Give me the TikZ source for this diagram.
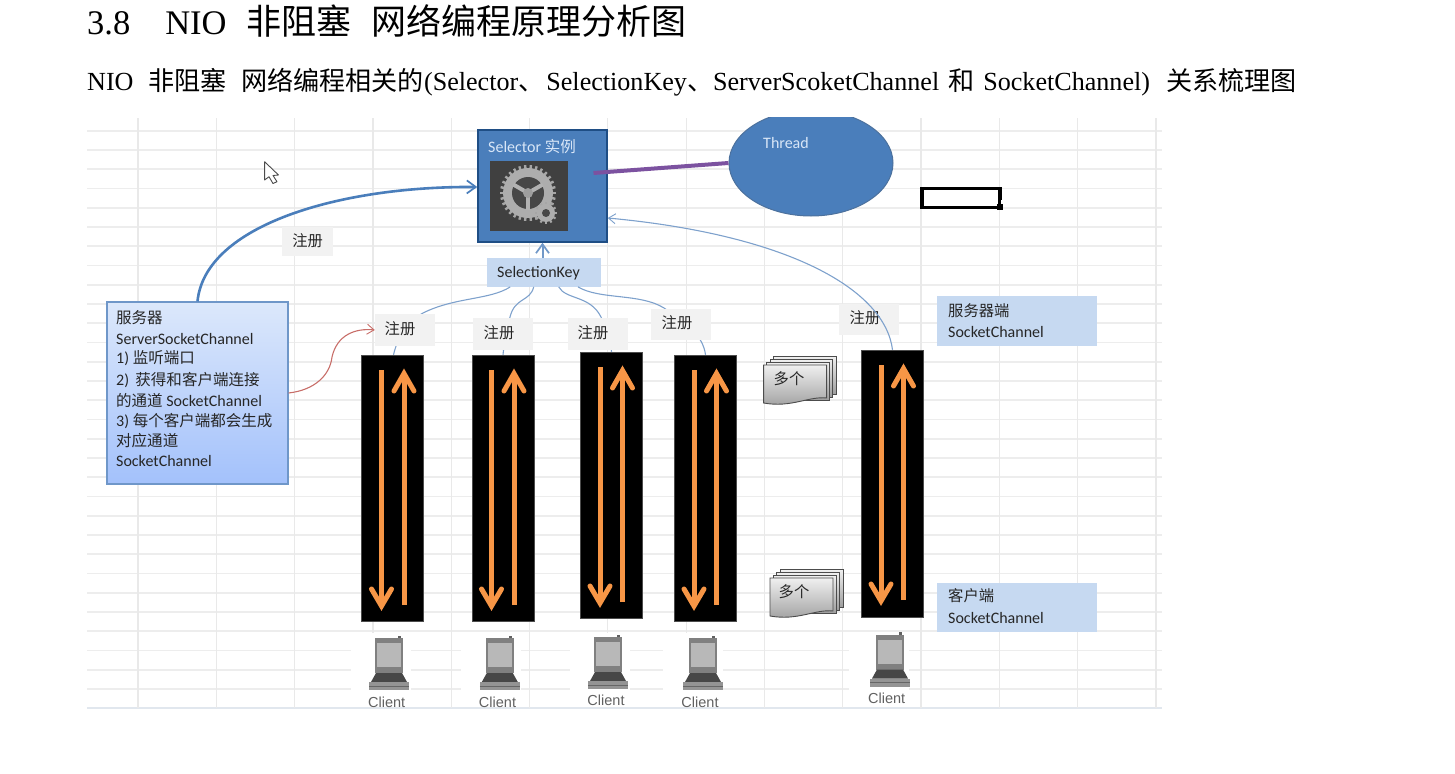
\documentclass[tikz,border=0pt]{standalone}
\usepackage{fontspec}
\setmainfont{Liberation Serif}
\newfontfamily\cjk{Noto Sans CJK SC}
\newfontfamily\cjks[Scale=0.97]{Noto Sans CJK SC}
\newfontfamily\calfont{Carlito}
\newfontfamily\arifont{Liberation Sans}
\usetikzlibrary{shapes.geometric,arrows.meta,calc}
\newcommand{\zh}[1]{{\cjk #1}}
\newcommand{\zs}[1]{{\cjks #1}}
\definecolor{gridc}{HTML}{EDEDED}
\definecolor{gridv}{HTML}{E9E9E9}
\definecolor{selblue}{HTML}{4A7EBB}
\definecolor{seledge}{HTML}{1F4E85}
\definecolor{pale}{HTML}{C6D9F1}
\definecolor{linkblue}{HTML}{7EA1CC}
\definecolor{orangearrow}{HTML}{F79646}
\definecolor{purpleline}{HTML}{7C52A0}
\definecolor{redlink}{HTML}{C86E69}
\definecolor{srvtop}{HTML}{DCE8FB}
\definecolor{srvbot}{HTML}{A3C1FB}
\definecolor{srvedge}{HTML}{6F97C9}
\definecolor{lighttext}{HTML}{D8E6F7}
\tikzset{
  lbl/.style={fill=black!5,inner sep=0pt,minimum width=60pt,minimum height=32pt},
  txt/.style={inner sep=0pt,text=black!85,font=\cjk\fontsize{15.3}{15.3}\selectfont},
  lat/.style={anchor=west,inner sep=0pt,text=black!85,font=\calfont\fontsize{16}{16}\selectfont},
  palebox/.style={fill=pale,inner sep=0pt},
  chan/.style={fill=black,draw=black!70,line width=.5pt,inner sep=0pt,minimum width=62pt},
  thinlink/.style={draw=linkblue,line width=1.1pt},
  openhead/.style={-{Straight Barb[length=7pt,width=10pt,line width=.9pt]}},
  bighead/.style={-{Straight Barb[length=9pt,width=13pt,line width=1.7pt]}},
  pipearrow/.style={draw=orangearrow,line width=5pt},
  page/.style={draw=black!70,line width=.9pt,top color=black!6,bottom color=black!38},
  clienttext/.style={font=\arifont\fontsize{14.5}{14.5}\selectfont,text=black!62,inner sep=0pt},
  mask/.style={fill=white,draw=none},
}
% two arrows inside a channel: #1 left edge, #2 top edge
\newcommand{\pipes}[2]{%
  \begin{scope}[shift={(#1,#2)}]
    \draw[pipearrow] (19.5,15) -- (19.5,250);
    \draw[pipearrow,line cap=round,line join=miter] (9.5,234) -- (19.5,251) -- (29.5,234);
    \draw[pipearrow] (42,250) -- (42,20);
    \draw[pipearrow,line cap=round,line join=miter] (32,36) -- (42,18.5) -- (52,36);
  \end{scope}}
% laptop picture: #1 centre x, #2 vertical offset
\newcommand{\laptop}[2]{%
  \begin{scope}[shift={(#1,#2)}]
    \fill[black!50] (-14,638) rectangle (14,673);
    \fill[black!28] (-12,643) rectangle (12,667);
    \fill[black!62] (9,635.5) rectangle (12,638);
    \fill[black!72] (-13,673) -- (13,673) -- (18,682) -- (-18,682) -- cycle;
    \fill[black!42] (-20,682) rectangle (20,690);
    \draw[black!60,line width=.5pt] (-20,686) -- (20,686);
  \end{scope}}
% stack of pages: #1 left, #2 top
\newcommand{\pagestack}[2]{%
  \begin{scope}[shift={(#1,#2)}]
    \draw[page] (10,0) rectangle (73,38);
    \draw[page] (6.5,3) rectangle (69,41);
    \draw[page] (3,6) rectangle (66,44);
    \draw[page] (0,9) -- (63,9) -- (63,42) .. controls (45,40) and (28,52) .. (0,47) -- cycle;
  \end{scope}}
\begin{document}
\begin{tikzpicture}[x=1pt,y=-1pt]
\useasboundingbox (0,0) rectangle (1455,773);
% headings
\node[anchor=base west,inner sep=0pt,font=\fontsize{34.5}{34.5}\selectfont] (title) at (87,34.5)
  {3.8\hspace{35pt}NIO\hspace{20pt}{\cjk\fontsize{35}{35}\selectfont 非阻塞\hspace{20pt}网络编程原理分析图}};
\node[anchor=base west,inner sep=0pt,font=\fontsize{26.1}{26.1}\selectfont] (subtitle) at (87,91)
  {NIO\hspace{14.5pt}\zh{非阻塞}\hspace{15pt}\zh{网络编程相关的}(Selector\zh{、}\hspace{2pt}SelectionKey\zh{、}ServerScoketChannel\hspace{9pt}\zh{和}\hspace{9pt}SocketChannel)\hspace{16pt}\zh{关系梳理图}};
% sheet grid
\foreach \i in {0,...,29} \draw[gridc,line width=1.6pt] (87,130.7+19.25*\i) -- (1162,130.7+19.25*\i);
\draw[gridc!70!pale,line width=2pt] (87,708.3) -- (1162,708.3);
\foreach \i in {0,...,13} \draw[gridv,line width=1.2pt] (138+78.3*\i,118) -- (138+78.3*\i,708);
% white backgrounds of client pictures
\foreach \c in {351,461,570,663,849} \fill[mask] (\c,633) rectangle (\c+60,707);
% selector
\node[fill=selblue,draw=seledge,line width=1.5pt,inner sep=0pt,minimum width=129pt,minimum height=112pt] (selector) at (542.5,186) {};
\node[lat,text=lighttext] (seltext) at (488,146.5) {Selector \zs{实例}};
\node[fill=black!75,inner sep=0pt,minimum width=78pt,minimum height=70pt] (gearbox) at (529,196) {};
\begin{scope}[shift={(528,193)}]
  \foreach \a in {0,12,...,348} \draw[black!35,line width=2.4pt] (\a:23) -- (\a:28);
  \fill[black!32] (0,0) circle (25);
  \fill[black!72] (0,0) circle (16);
  \foreach \a in {90,210,330} \draw[black!30,line width=4pt] (0,0) -- (\a:17);
  \fill[black!38] (0,0) circle (5);
  \foreach \a in {0,30,...,330} \draw[black!35,line width=2pt] ($(18,20)+(\a:8)$) -- ($(18,20)+(\a:11)$);
  \fill[black!32] (18,20) circle (9);
  \fill[black!72] (18,20) circle (4);
\end{scope}
% thread (cut by the top of the picture)
\begin{scope}
  \clip (700,118) rectangle (920,230);
  \node[ellipse,fill=selblue,draw=seledge!80,line width=1pt,inner sep=0pt,minimum width=164pt,minimum height=106pt] (thread) at (811,163) {};
\end{scope}
\node[lat,anchor=center,text=lighttext] (threadtext) at (786,143) {Thread};
\draw[draw=purpleline,line width=4pt] ([xshift=-135pt,yshift=-10pt]thread.west) -- (thread.west);
% selection cell and cursor
\node[draw=black,line width=3.4pt,inner sep=0pt,minimum width=78pt,minimum height=19pt] (cell) at (961,198) {};
\node[fill=black,inner sep=0pt,minimum size=6.5pt] (handle) at (1000,207) {};
\fill[white] (1001,200) rectangle (1003.5,203.5);
\draw[black!70,fill=white,line width=.9pt,line join=round] (264.6,161.7) -- (264.6,180) -- (269,176.7) -- (273,183.5) -- (277,181.7) -- (273,175.5) -- (278.5,175) -- cycle;
% key and note boxes
\node[palebox,minimum width=114.5pt,minimum height=29pt] (key) at (544.2,272.2) {};
\node[lat] (keytext) at (497,273) {SelectionKey};
\node[palebox,minimum width=160pt,minimum height=50pt] (srvnote) at (1017,321) {};
\node[txt,anchor=west] (srvnote1) at (948,311) {服务器端};
\node[lat] (srvnote2) at (948,332) {SocketChannel};
\node[palebox,minimum width=160pt,minimum height=49pt] (clinote) at (1017,607.5) {};
\node[txt,anchor=west] (clinote1) at (948,596) {客户端};
\node[lat] (clinote2) at (948,618) {SocketChannel};
% channels
\node[chan,minimum height=266pt] (ch1) at (392.5,488) {};
\node[chan,minimum height=266pt] (ch2) at (503,488) {};
\node[chan,minimum height=266pt] (ch3) at (611.5,485) {};
\node[chan,minimum height=266pt] (ch4) at (705.5,488) {};
\node[chan,minimum height=267pt] (ch5) at (892.5,483.5) {};
\pipes{362}{355}\pipes{472}{355}\pipes{580.5}{352}\pipes{674.5}{355}\pipes{861.5}{350}
% links from the key to the channels (behind the labels)
\draw[thinlink] ([xshift=-34pt]key.south) .. controls (490,300) and (455,297) .. (423,313) .. controls (405,323) and (397,340) .. ([xshift=1pt]ch1.north);
\draw[thinlink] ([xshift=-10.5pt]key.south) .. controls (530,302) and (515,297) .. (510,317) .. controls (506,330) and (504,345) .. (ch2.north);
\draw[thinlink] ([xshift=14.5pt]key.south) .. controls (566,300) and (590,295) .. (601,317) .. controls (608,330) and (611,345) .. (ch3.north);
\draw[thinlink] ([xshift=33.8pt]key.south) .. controls (600,300) and (640,293) .. (664,308) .. controls (685,322) and (703,335) .. (ch4.north);
\draw[bighead,draw=linkblue!75!selblue,line width=2pt] (key.north -| selector.south) -- (selector.south);
% labels
\node[lbl,minimum height=29pt,minimum width=51.5pt] (reg0) at (307.7,241.5) {};
\node[txt] (reg0t) at (307.7,241) {注册};
\node[lbl] (reg1) at (405,330) {};
\node[txt] (reg1t) at (400,329) {注册};
\node[lbl] (reg2) at (503,334) {};
\node[txt] (reg2t) at (499,333) {注册};
\node[lbl] (reg3) at (598,334) {};
\node[txt] (reg3t) at (593,333) {注册};
\node[lbl,minimum height=31pt] (reg4) at (681,324.5) {};
\node[txt] (reg4t) at (677,323) {注册};
\node[lbl,minimum height=31pt] (reg5) at (868.7,319.5) {};
\node[txt] (reg5t) at (865,318) {注册};
% server box
\node[top color=srvtop,bottom color=srvbot,draw=srvedge,line width=1.2pt,inner sep=0pt,minimum width=181pt,minimum height=182pt] (server) at (197.5,393) {};
\foreach \t/\y in {
  {\zs{服务器}}/318,
  {ServerSocketChannel}/339.5,
  {1) \zs{监听端口}}/358.5,
  {2)\, \zs{获得和客户端连接}}/380,
  {\zs{的通道} SocketChannel}/400.5,
  {3) \zs{每个客户端都会生成}}/421,
  {\zs{对应通道}}/441,
  {SocketChannel}/461}
  \node[lat] at (116,\y) {\t};
% connectors to the selector
\draw[bighead,draw=selblue,line width=2.6pt] (server.north) .. controls (205,225) and (340,186) .. ([yshift=-1pt]selector.west);
\draw[openhead,draw=redlink,line width=1.1pt] (server.east) .. controls (315,390) and (330,375) .. (332,357) .. controls (337,335) and (355,328) .. (reg1.west);
\draw[openhead,thinlink] (ch5.north) .. controls (885,290) and (790,235) .. ([yshift=-32pt]selector.east);
% document stacks
\pagestack{763.6}{356}
\pagestack{770}{569}
\node[txt] (many1) at (789,379) {多个};
\node[txt] (many2) at (794,592) {多个};
% clients
\laptop{389}{0}\laptop{499.8}{0}\laptop{608}{-1}\laptop{703}{0}\laptop{890}{-3.5}
\node[clienttext] (c1) at (386.7,702.7) {Client};
\node[clienttext] (c2) at (497.5,702.7) {Client};
\node[clienttext] (c3) at (606,700.5) {Client};
\node[clienttext] (c4) at (700,702.7) {Client};
\node[clienttext] (c5) at (886.7,698) {Client};
\end{tikzpicture}
\end{document}
